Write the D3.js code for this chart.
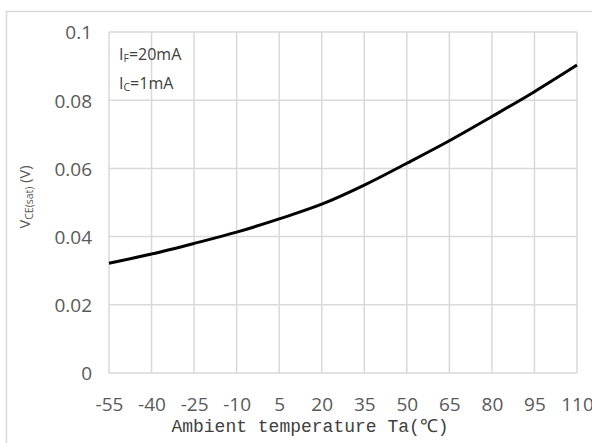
<!DOCTYPE html>
<html>
<head>
<meta charset="utf-8">
<script src="https://cdn.jsdelivr.net/npm/d3@7"></script>
<style>
  html, body { margin: 0; padding: 0; background: #fff; }
  svg { display: block; }
</style>
</head>
<body>
<svg id="chart" width="592" height="443"></svg>
<script>
// Data
const temperatures = [-55, -40, -25, -10, 5, 20, 35, 50, 65, 80, 95, 110];
const vceSat = [0.0322, 0.0349, 0.0380, 0.0413, 0.0452, 0.0495, 0.0551, 0.0615, 0.0681, 0.0752, 0.0825, 0.0903];
const xTickLabels = [-55, -40, -25, -10, 5, 20, 35, 50, 65, 80, 95, 110];
const yTickValues = [0, 0.02, 0.04, 0.06, 0.08, 0.1];

const svg = d3.select("#chart");
const margin = { left: 109, top: 32, right: 592 - 577, bottom: 443 - 373 };
const W = 592, H = 443;

// outer frame
svg.append("path")
  .attr("d", `M6.5,${H} L6.5,11.5 L${W},11.5`)
  .attr("fill", "none").attr("stroke", "#d9d9d9").attr("stroke-width", 1.5);

const x = d3.scaleLinear().domain([-55, 110]).range([margin.left, W - margin.right]);
const y = d3.scaleLinear().domain([0, 0.1]).range([H - margin.bottom, margin.top]);

const grid = svg.append("g").attr("stroke", "#d9d9d9").attr("stroke-width", 1.5);
grid.selectAll("line.v").data(xTickLabels).join("line")
  .attr("x1", d => x(d)).attr("x2", d => x(d))
  .attr("y1", y(0)).attr("y2", y(0.1));
grid.selectAll("line.h").data(yTickValues).join("line")
  .attr("x1", x(-55)).attr("x2", x(110))
  .attr("y1", d => y(d)).attr("y2", d => y(d));

// axes (text only)
const xAxis = d3.axisBottom(x).tickValues(xTickLabels).tickSize(0).tickPadding(0).tickFormat(d => String(d));
const gx = svg.append("g").attr("transform", `translate(0,${y(0)})`).call(xAxis);
gx.select(".domain").remove();
gx.selectAll("text")
  .attr("y", 0).attr("dy", 0)
  .attr("transform", "translate(0,38)")
  .attr("font-family", "'Open Sans', sans-serif").attr("font-size", 19).attr("fill", "#595959");

const yAxis = d3.axisLeft(y).tickValues(yTickValues).tickSize(0).tickPadding(17)
  .tickFormat(d => d === 0 ? "0" : (d === 0.1 ? "0.1" : d3.format(".2f")(d)));
const gy = svg.append("g").attr("transform", `translate(${x(-55)},0)`).call(yAxis);
gy.select(".domain").remove();
gy.selectAll("text")
  .attr("dy", "0.36em")
  .attr("font-family", "'Open Sans', sans-serif").attr("font-size", 19).attr("fill", "#595959");

// line
const line = d3.line()
  .x((d, i) => x(temperatures[i]))
  .y(d => y(d))
  .curve(d3.curveMonotoneX);
svg.append("path").datum(vceSat)
  .attr("d", line)
  .attr("fill", "none").attr("stroke", "#000").attr("stroke-width", 3);

// x axis title
svg.append("text")
  .attr("x", 310).attr("y", 432)
  .attr("text-anchor", "middle")
  .attr("font-family", "'Liberation Mono', monospace").attr("font-size", 18).attr("fill", "#404040")
  .text("Ambient temperature Ta(℃)");

// y axis title
const yt = svg.append("text")
  .attr("transform", "translate(30,197) rotate(-90)")
  .attr("text-anchor", "middle")
  .attr("font-family", "'Open Sans', sans-serif").attr("font-size", 14.5).attr("fill", "#595959");
yt.append("tspan").text("V");
yt.append("tspan").attr("font-size", 10.5).attr("dy", 3).text("CE(sat)");
yt.append("tspan").attr("dy", -3).text(" (V)");

// annotations
const ann = svg.append("g").attr("font-family", "'Open Sans', sans-serif").attr("font-size", 16).attr("fill", "#404040");
const a1 = ann.append("text").attr("x", 119).attr("y", 60);
a1.append("tspan").text("I");
a1.append("tspan").attr("font-size", 10.5).attr("dy", 2).text("F");
a1.append("tspan").attr("dy", -2).text("=20mA");
const a2 = ann.append("text").attr("x", 119).attr("y", 89);
a2.append("tspan").text("I");
a2.append("tspan").attr("font-size", 10.5).attr("dy", 2).text("C");
a2.append("tspan").attr("dy", -2).text("=1mA");
</script>
</body>
</html>
